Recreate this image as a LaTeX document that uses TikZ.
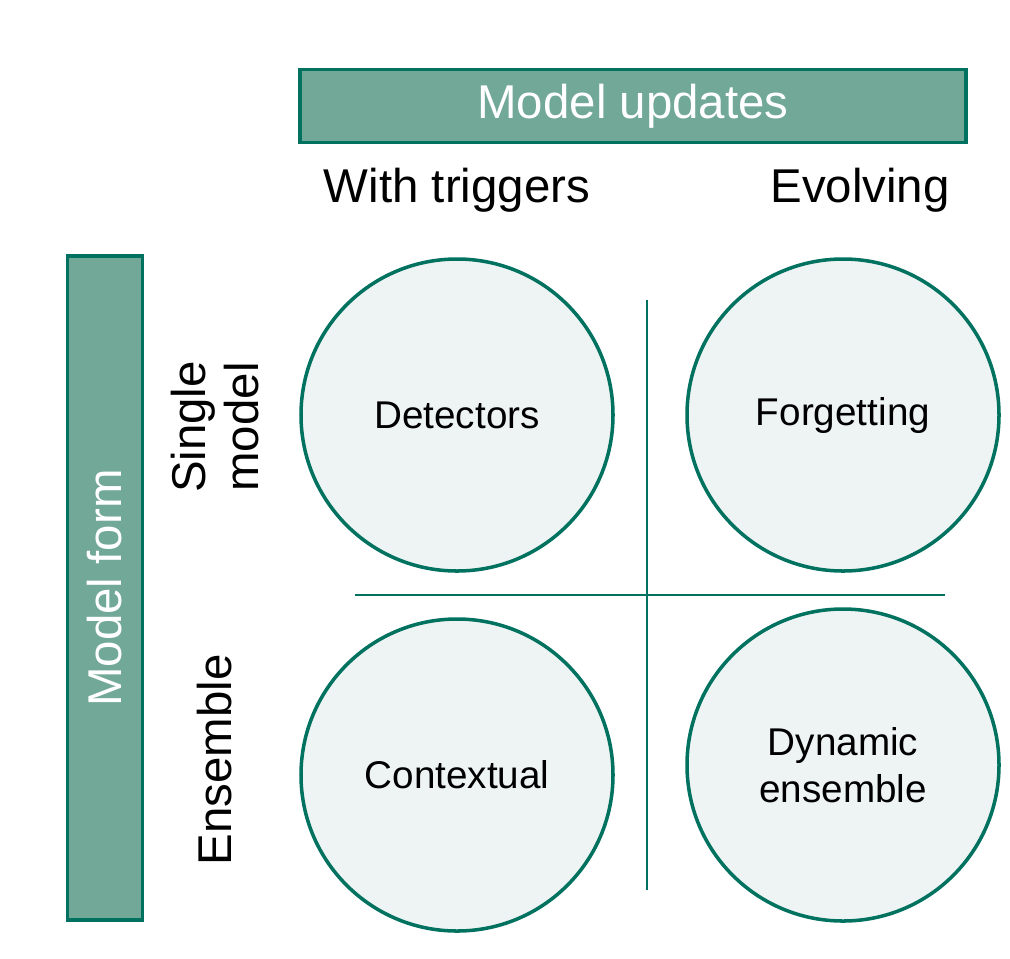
\documentclass[tikz,border=0pt]{standalone}
\usepackage{fontspec}
\setmainfont{Liberation Sans}
\definecolor{dk}{HTML}{00725F}
\definecolor{md}{HTML}{72A898}
\definecolor{lt}{HTML}{EEF4F3}
\begin{document}
\begin{tikzpicture}[x=0.02cm,y=-0.02cm,
  hdr/.style={draw=dk,line width=2.2pt,fill=md,text=white,inner sep=0pt,font=\fontsize{27}{32}\selectfont},
  circ/.style={circle,draw=dk,line width=2pt,fill=lt,minimum size=312*0.02cm,inner sep=0pt,align=center,font=\fontsize{22}{27}\selectfont},
  lbl/.style={font=\fontsize{27}{30}\selectfont,align=center},
  sep/.style={draw=dk,line width=0.6pt}]
\useasboundingbox (0,0) rectangle (1010,958);
\node[hdr,minimum width=666*0.02cm,minimum height=73*0.02cm] (top) at (633,106) {Model updates};
\node[hdr,rotate=90,minimum width=664*0.02cm,minimum height=75*0.02cm] (left) at (105,588) {Model form};
\node[lbl] (wt) at (457,190) {With triggers};
\node[lbl] (ev) at (860,190) {Evolving};
\node[lbl,rotate=90] (sm) at (215,427) {Single\\model};
\node[lbl,rotate=90] (en) at (215,760) {Ensemble};
\node[circ] (c1) at (457,415) {Detectors};
\node[circ] (c2) at (843,415) {Forgetting};
\node[circ] (c3) at (457,775) {Contextual};
\node[circ] (c4) at (843,765) {Dynamic\\ensemble};
\coordinate (vt) at (647,300); \coordinate (vb) at (647,890);
\coordinate (hl) at (355,595); \coordinate (hr) at (945,595);
\draw[sep] (vt) -- (vb);
\draw[sep] (hl) -- (hr);
\end{tikzpicture}
\end{document}
